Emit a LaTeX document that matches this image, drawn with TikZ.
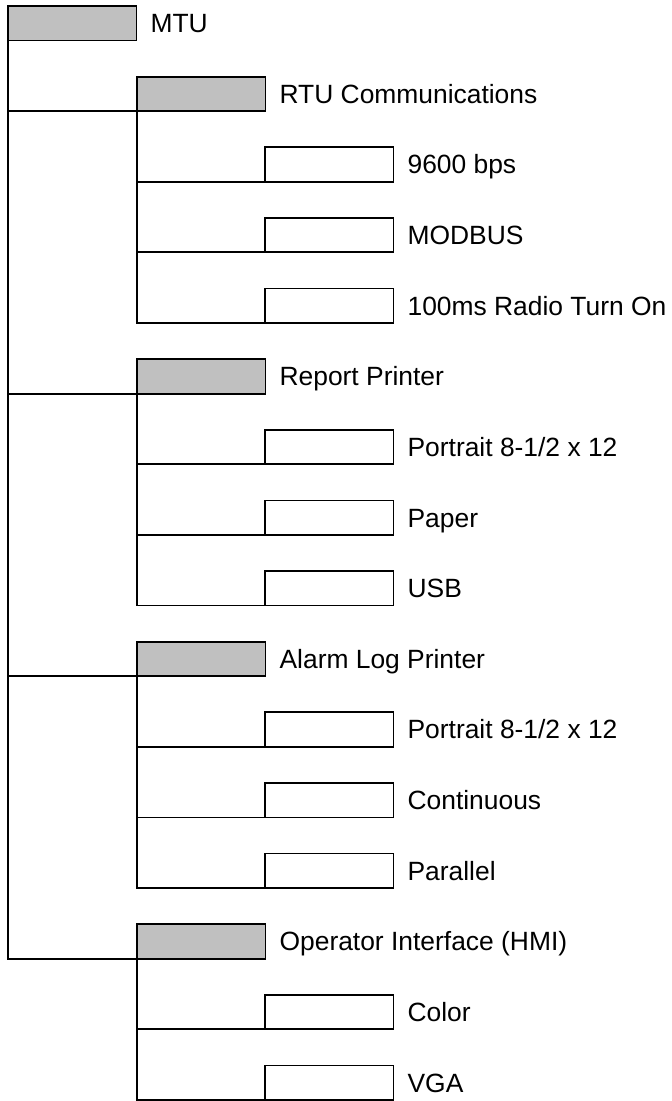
\documentclass[tikz,border=0pt]{standalone}
\usepackage{fontspec}
\setmainfont{Liberation Sans}
\usetikzlibrary{positioning}
\definecolor{boxgray}{RGB}{192,192,192}
\tikzset{
    grpbox/.style={draw, fill=boxgray, minimum width=64.25pt, minimum height=17.25pt, inner sep=0pt, outer sep=0pt, anchor=north west},
    itembox/.style={grpbox, fill=white},
    lbl/.style={anchor=west, inner sep=6.6pt, text height=9.4pt, text depth=0pt, font=\fontsize{13.2}{15}\selectfont}
}
\begin{document}
\begin{tikzpicture}[x=0.5pt, y=-0.5pt, line width=0.9pt]
        \useasboundingbox (0,0) rectangle (672,1101);
        %radice
        \node[grpbox] (b0) at (8,6) {};
        \node[lbl, right=0pt of b0] (t0) {MTU};

        %rtu
        \node[grpbox] (b1) at (137,76.63) {};
        \node[lbl, right=0pt of b1] (t1) {RTU Communications};
        \node[itembox] (b2) at (265,147.26) {};
        \node[lbl, right=0pt of b2] (t2) {9600 bps};
        \node[itembox] (b3) at (265,217.89) {};
        \node[lbl, right=0pt of b3] (t3) {MODBUS};
        \node[itembox] (b4) at (265,288.52) {};
        \node[lbl, right=0pt of b4] (t4) {100ms Radio Turn On};

        %report printer
        \node[grpbox] (b5) at (137,359.15) {};
        \node[lbl, right=0pt of b5] (t5) {Report Printer};
        \node[itembox] (b6) at (265,429.78) {};
        \node[lbl, right=0pt of b6] (t6) {Portrait 8-1/2 x 12};
        \node[itembox] (b7) at (265,500.41) {};
        \node[lbl, right=0pt of b7] (t7) {Paper};
        \node[itembox] (b8) at (265,571.04) {};
        \node[lbl, right=0pt of b8] (t8) {USB};

        %alarm log printer
        \node[grpbox] (b9) at (137,641.67) {};
        \node[lbl, right=0pt of b9] (t9) {Alarm Log Printer};
        \node[itembox] (b10) at (265,712.3) {};
        \node[lbl, right=0pt of b10] (t10) {Portrait 8-1/2 x 12};
        \node[itembox] (b11) at (265,782.93) {};
        \node[lbl, right=0pt of b11] (t11) {Continuous};
        \node[itembox] (b12) at (265,853.56) {};
        \node[lbl, right=0pt of b12] (t12) {Parallel};

        %hmi
        \node[grpbox] (b13) at (137,924.19) {};
        \node[lbl, right=0pt of b13] (t13) {Operator Interface (HMI)};
        \node[itembox] (b14) at (265,994.82) {};
        \node[lbl, right=0pt of b14] (t14) {Color};
        \node[itembox] (b15) at (265,1065.45) {};
        \node[lbl, right=0pt of b15] (t15) {VGA};

        %collegamenti
        \draw (b0.south west) |- (b1.south west);
        \draw (b0.south west) |- (b5.south west);
        \draw (b0.south west) |- (b9.south west);
        \draw (b0.south west) |- (b13.south west);
        \draw (b1.south west) |- (b2.south west);
        \draw (b1.south west) |- (b3.south west);
        \draw (b1.south west) |- (b4.south west);
        \draw (b5.south west) |- (b6.south west);
        \draw (b5.south west) |- (b7.south west);
        \draw (b5.south west) |- (b8.south west);
        \draw (b9.south west) |- (b10.south west);
        \draw (b9.south west) |- (b11.south west);
        \draw (b9.south west) |- (b12.south west);
        \draw (b13.south west) |- (b14.south west);
        \draw (b13.south west) |- (b15.south west);
    \end{tikzpicture}
\end{document}
